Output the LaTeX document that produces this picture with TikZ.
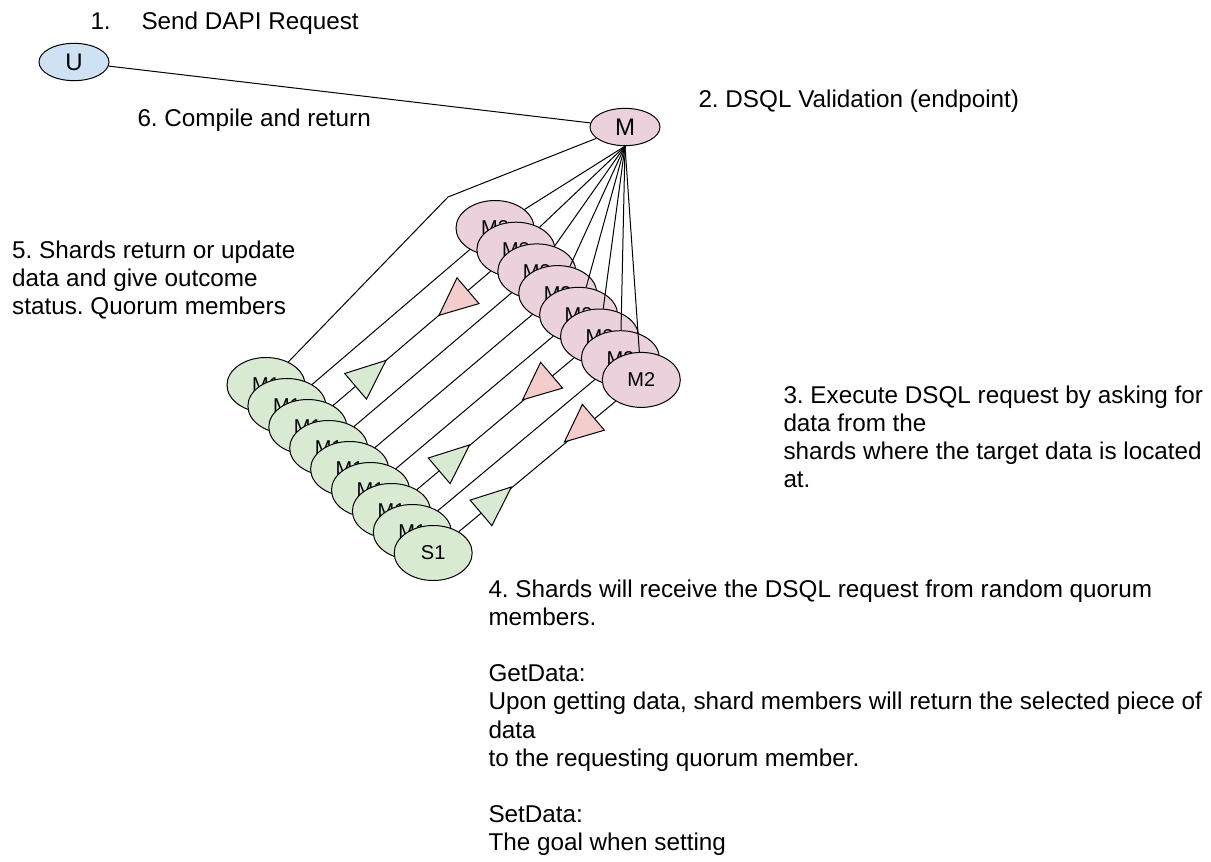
\documentclass[tikz,border=0pt]{standalone}
\usepackage{fontspec}
\setmainfont{Liberation Sans}
\usetikzlibrary{shapes.geometric}
\definecolor{ublue}{HTML}{CFE2F3}
\definecolor{mpink}{HTML}{EAD1DC}
\definecolor{sgreen}{HTML}{D9EAD3}
\definecolor{tred}{HTML}{F4CCCC}
\frenchspacing
\begin{document}
\frenchspacing
\begin{tikzpicture}[x=0.75pt,y=-0.75pt,line width=0.75pt,
  ell/.style={ellipse,draw,inner sep=0pt},
  smallell/.style={ell,minimum width=52.5pt,minimum height=28pt,font=\fontsize{18}{21}\selectfont},
  bigell/.style={ell,minimum width=58.5pt,minimum height=41.25pt,font=\fontsize{15}{18}\selectfont},
  pinkell/.style={bigell,fill=mpink},
  greenell/.style={bigell,fill=sgreen},
  txt/.style={anchor=base west,inner sep=0pt,align=left,font=\fontsize{18.2}{21.15}\selectfont\frenchspacing},
  gtri/.style={draw,fill=sgreen,line join=miter},
  rtri/.style={draw,fill=tred,line join=miter},
  link/.style={draw}
]
\useasboundingbox (0,0) rectangle (1211,861);

% texts (base anchor of a multi-line node = baseline of its last line)
\node[txt] (t1n) at (90,29) {1.};
\node[txt] (t1) at (141,29) {Send DAPI Request};
\node[txt] (t6) at (137,126) {6. Compile and return};
\node[txt] (t2) at (698,107) {2. DSQL Validation (endpoint)};
\node[txt] (t5) at (11.7,314.4) {5. Shards return or update\\data and give outcome\\status. Quorum members};
\node[txt] (t3) at (783,487.6) {3. Execute DSQL request by asking for\\data from the\\shards where the target data is located\\at.};
\node[txt] (t4) at (488,850.8) {4. Shards will receive the DSQL request from random quorum\\members.\\\mbox{}\\GetData:\\Upon getting data, shard members will return the selected piece of\\data\\to the requesting quorum member.\\\mbox{}\\SetData:\\The goal when setting};

% top nodes
\node[smallell,fill=ublue] (U) at (74,62) {U};
\node[smallell,fill=mpink] (M) at (625,127) {M};
\draw[link] (U) -- (M);

% quorum members (pink stack) with fan lines
\foreach \i in {1,...,8} {
  \node[pinkell] (P\i) at ({495+20.9*(\i-1)},{228+21.7*(\i-1)}) {M2};
  \draw[link] (M.south) -- (P\i);
}

% shard members (green stack)
\foreach \i in {1,...,8} {
  \node[greenell] (G\i) at ({266+20.9*(\i-1)},{385+21*(\i-1)}) {M1};
}
\node[greenell] (G9) at ({266+20.9*8},{385+21*8}) {S1};

% connectors shard -> quorum member
\foreach \i in {1,...,8} {
  \pgfmathtruncatemacro{\j}{\i+1}
  \draw[link] (G\j) -- (P\i);
}
\coordinate (K) at (448,197);
\draw[link] (M) -- (K) -- (G1);

% direction triangles
\foreach \dx/\dy in {0/0,83.6/84.5,125.4/126.6} {
  \draw[gtri,shift={(\dx,\dy)}] (386,360.4) -- (366.5,399.1) -- (344.7,373.5) -- cycle;
  \draw[rtri,shift={(\dx,\dy)}] (439,315.3) -- (479,303.6) -- (457,277.8) -- cycle;
}
\end{tikzpicture}
\end{document}
